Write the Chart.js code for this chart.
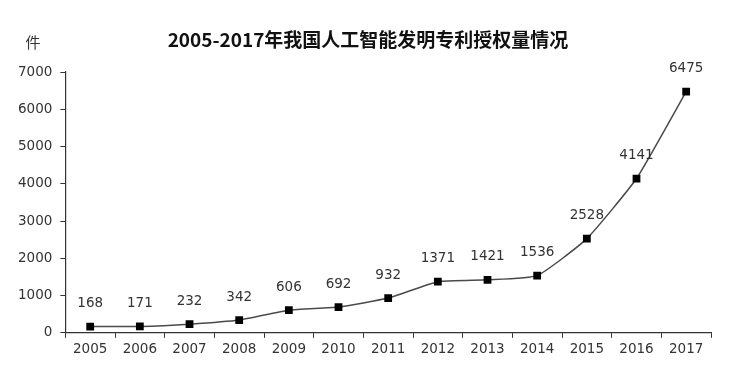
<!DOCTYPE html>
<html><head><meta charset="utf-8">
<script src="https://cdn.jsdelivr.net/npm/chart.js@4/dist/chart.umd.min.js"></script>
<style>html,body{margin:0;padding:0;background:#fff}#wrap{width:733px;height:374px}</style>
</head><body><div id="wrap"><canvas id="c" width="733" height="374"></canvas></div>
<script>
const categories = ['2005','2006','2007','2008','2009','2010','2011','2012','2013','2014','2015','2016','2017'];
const grants = [168,171,232,342,606,692,932,1371,1421,1536,2528,4141,6475];
const yTicks = [0,1000,2000,3000,4000,5000,6000,7000];
const titleText = '2005-2017年我国人工智能发明专利授权量情况';
const unitText = '件';

const labelPlugin = {
  id: 'labels',
  afterDatasetsDraw(chart) {
    const ctx = chart.ctx;
    const meta = chart.getDatasetMeta(0);
    ctx.save();
    ctx.font = '13.5px "DejaVu Sans", sans-serif';
    ctx.fillStyle = '#333';
    ctx.textAlign = 'center';
    ctx.textBaseline = 'middle';
    meta.data.forEach((pt, i) => {
      ctx.fillText(String(grants[i]), pt.x, pt.y - 23);
    });
    ctx.font = '15px "Noto Sans CJK SC", sans-serif';
    ctx.fillText(unitText, 33, 42);
    ctx.font = 'bold 19px "Noto Sans CJK SC", sans-serif';
    ctx.fillStyle = '#111';
    ctx.fillText(titleText, 368, 40);
    ctx.restore();
  }
};

new Chart(document.getElementById('c'), {
  type: 'line',
  data: {
    labels: categories,
    datasets: [{
      data: grants,
      borderColor: '#4a4a4a',
      borderWidth: 1.5,
      tension: 0.15,
      pointStyle: 'rect',
      pointRadius: 5.5,
      pointBackgroundColor: '#000',
      pointBorderColor: '#000',
      pointBorderWidth: 0,
      fill: false
    }]
  },
  options: {
    responsive: false,
    animation: false,
    devicePixelRatio: 1,
    layout: { padding: { top: 72, right: 22, bottom: 12, left: 10 } },
    plugins: { legend: { display: false }, tooltip: { enabled: false }, title: { display: false } },
    scales: {
      x: {
        offset: true,
        grid: { display: true, drawOnChartArea: false, drawTicks: true, tickLength: 5, offset: true, color: '#333' },
        border: { color: '#333', width: 1.2 },
        ticks: { color: '#333', font: { size: 13.5, family: '"DejaVu Sans", sans-serif' }, padding: 4, autoSkip: false, maxRotation: 0 }
      },
      y: {
        min: 0, max: 7000,
        afterBuildTicks(axis) { axis.ticks = yTicks.map(v => ({ value: v })); },
        grid: { display: true, drawOnChartArea: false, drawTicks: true, tickLength: 5, color: '#333' },
        border: { color: '#333', width: 1.2 },
        ticks: { color: '#333', font: { size: 13.5, family: '"DejaVu Sans", sans-serif' }, padding: 8, callback: v => String(v) }
      }
    }
  },
  plugins: [labelPlugin]
});
</script></body></html>
